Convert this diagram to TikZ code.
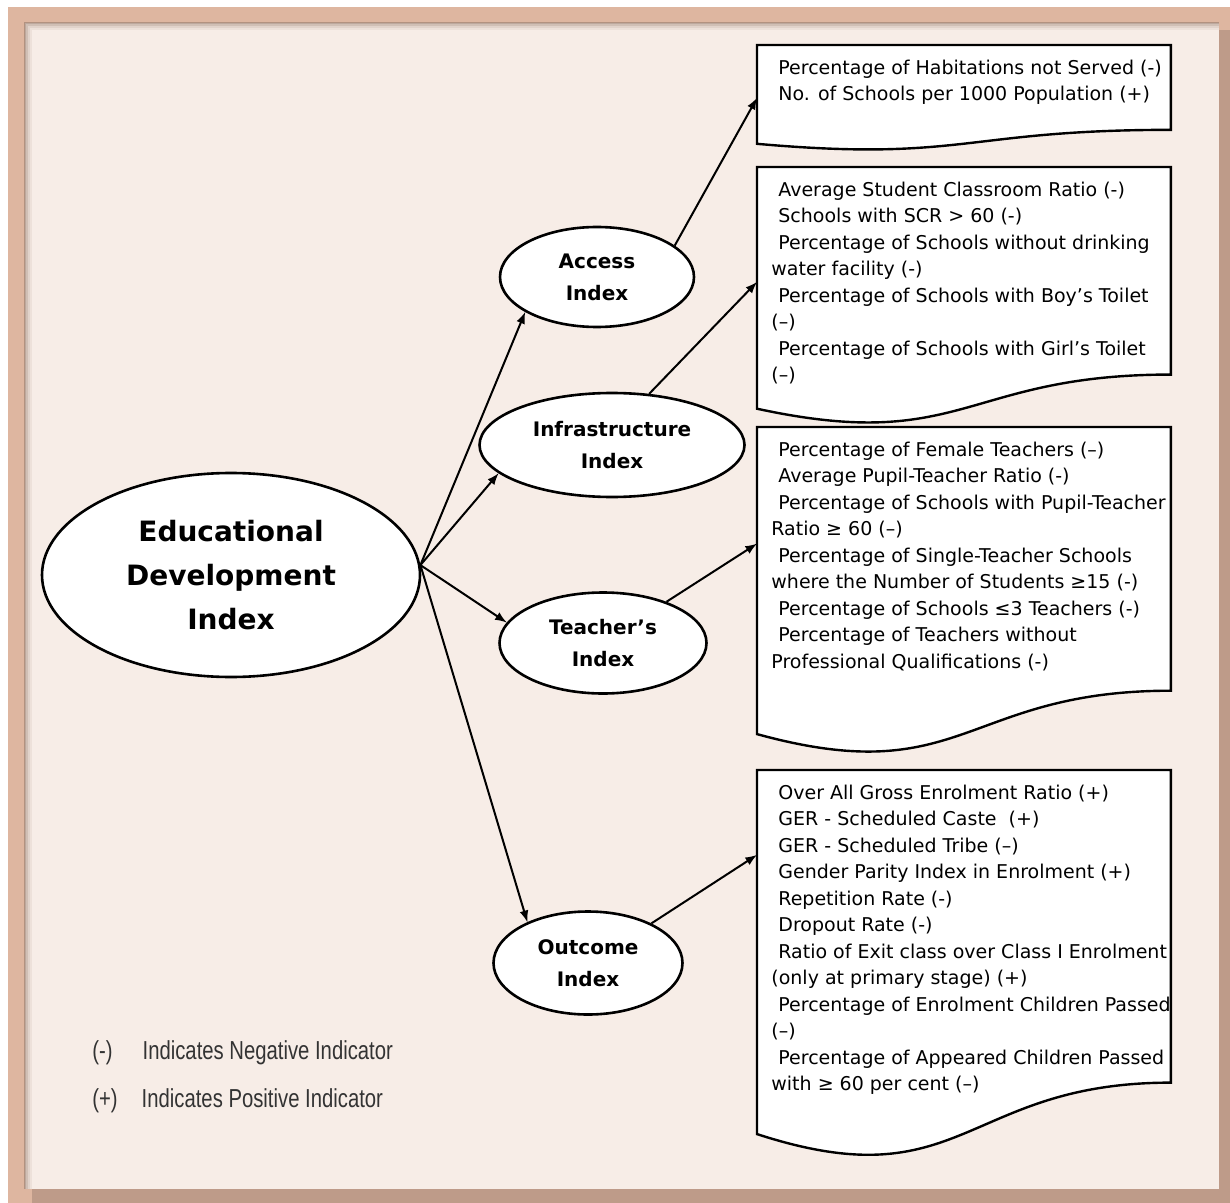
\documentclass[tikz,border=0pt]{standalone}
\usepackage{fontspec}
\newfontfamily\boxfont{DejaVu Sans}
\newfontfamily\keyfont[FakeStretch=0.78]{Liberation Sans}
\usetikzlibrary{shapes.geometric, calc, arrows}

\definecolor{paper}{RGB}{247,237,231}
\definecolor{frametan}{RGB}{222,182,160}
\definecolor{shadowbrown}{RGB}{150,122,108}

\newcommand{\ind}{\hspace*{3.5pt}}
% document shaped frame round a box node
\newcommand{\docframe}[1]{%
  \filldraw[docline] (#1.north west) -- (#1.north east)
    -- ($(#1.north east)!0.802!(#1.south east)$)
    .. controls ($(#1.north)!0.802!(#1.south)$) and ($(#1.north)!1.107!(#1.south)$)
    .. ($(#1.north west)!0.934!(#1.south west)$) -- cycle;}

\begin{document}
\begin{tikzpicture}[>=latex, x=0.5pt, y=-0.5pt,
    idx/.style={ellipse, draw, line width=1.3pt, fill=white, inner sep=0pt, align=center,
      font={\boxfont\bfseries\fontsize{10}{16}\selectfont}},
    docbox/.style={rectangle, anchor=north west, minimum width=206.5pt, inner sep=0pt},
    docline/.style={draw=black, fill=white, line width=1.2pt},
    doctext/.style={anchor=north west, align=left, inner xsep=7pt, inner ysep=7.3pt,
      font={\boxfont\fontsize{9.5}{13.25}\selectfont}},
    conn/.style={line width=1pt},
    key/.style={anchor=west, inner sep=0pt, text=black!80,
      font={\keyfont\fontsize{13}{15}\selectfont}}]
  % background
  \useasboundingbox (0,0) rectangle (1230,1203);
  \fill[white] (0,0) rectangle (1230,1203);
  \fill[frametan] (8,7) rectangle (1230,1203);
  \fill[shadowbrown!45!frametan] (1219,30) rectangle (1230,1203);
  \fill[shadowbrown!45!frametan] (32,1189) rectangle (1230,1203);
  \fill[paper] (25,23) rectangle (1219,1189);
  \foreach \d/\o in {0/0.6,2/0.4,4/0.22,6/0.1}
    \draw[draw=shadowbrown, opacity=\o, line width=1.1pt] (25+\d,1189) -- (25+\d,23+\d) -- (1219,23+\d);

  % index nodes
  \node[idx, minimum width=189pt, minimum height=102pt,
    font={\boxfont\bfseries\fontsize{14}{22}\selectfont}] (edi) at (231,575)
    {Educational\\Development\\Index};
  \node[idx, minimum width=97pt, minimum height=50pt] (access) at (597,277) {Access\\Index};
  \node[idx, minimum width=132.5pt, minimum height=52pt] (infra) at (612,445) {Infrastructure\\Index};
  \node[idx, minimum width=103.5pt, minimum height=50.5pt] (teach) at (603,643) {Teacher’s\\Index};
  \node[idx, minimum width=94.5pt, minimum height=51.5pt] (outcome) at (588,963) {Outcome\\Index};

  % indicator boxes
  \node[docbox, minimum height=52.5pt] (b1) at (757,45) {};
  \node[docbox, minimum height=129pt] (b2) at (757,167) {};
  \node[docbox, minimum height=164pt] (b3) at (757,427) {};
  \node[docbox, minimum height=194.5pt] (b4) at (757,770) {};
  \docframe{b1}
  \docframe{b2}
  \docframe{b3}
  \docframe{b4}

  \node[doctext] (t1) at (b1.north west)
    {\ind Percentage of Habitations not Served (-)\\
     \ind No. of Schools per 1000 Population (+)};
  \node[doctext] (t2) at (b2.north west)
    {\ind Average Student Classroom Ratio (-)\\
     \ind Schools with SCR > 60 (-)\\
     \ind Percentage of Schools without drinking\\
     water facility (-)\\
     \ind Percentage of Schools with Boy’s Toilet\\
     (–)\\
     \ind Percentage of Schools with Girl’s Toilet\\
     (–)};
  \node[doctext] (t3) at (b3.north west)
    {\ind Percentage of Female Teachers (–)\\
     \ind Average Pupil-Teacher Ratio (-)\\
     \ind Percentage of Schools with Pupil-Teacher\\
     Ratio ≥ 60 (–)\\
     \ind Percentage of Single-Teacher Schools\\
     where the Number of Students ≥15 (-)\\
     \ind Percentage of Schools ≤3 Teachers (-)\\
     \ind Percentage of Teachers without\\
     Professional Qualifications (-)};
  \node[doctext] (t4) at (b4.north west)
    {\ind Over All Gross Enrolment Ratio (+)\\
     \ind GER - Scheduled Caste \ (+)\\
     \ind GER - Scheduled Tribe (–)\\
     \ind Gender Parity Index in Enrolment (+)\\
     \ind Repetition Rate (-)\\
     \ind Dropout Rate (-)\\
     \ind Ratio of Exit class over Class I Enrolment\\
     (only at primary stage) (+)\\
     \ind Percentage of Enrolment Children Passed\\
     (–)\\
     \ind Percentage of Appeared Children Passed\\
     with ≥ 60 per cent (–)};

  % connectors
  \path[->, conn]
    (edi.3) edge (access.206)
    (edi.3) edge (infra.194)
    (edi.3) edge (teach.168)
    (edi.3) edge (outcome.146)
    (access.22) edge (b1.west)
    (infra.54) edge (b2.176)
    (teach.33) edge (b3.167)
    (outcome.32) edge (b4.152)
    ;

  % legend
  \node[key] (negkey) at (92,1053) {(-)\hspace{15pt}Indicates Negative Indicator};
  \node[key] (poskey) at (92,1101) {(+)\hspace{12pt}Indicates Positive Indicator};
\end{tikzpicture}
\end{document}
